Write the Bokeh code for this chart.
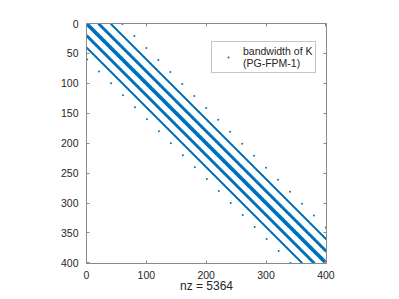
import numpy as np
from bokeh.plotting import figure
from bokeh.models import Range1d, LinearAxis, FixedTicker, Legend, LegendItem
from bokeh.embed import file_html
from bokeh.resources import INLINE

# ---- data: sparsity pattern of K (400 x 400) ----
n = 400
band_offsets = [-40, -21, -20, -19, -2, -1, 0, 1, 2, 19, 20, 21, 40]
upper_point_rows = [1, 21, 41, 61, 81, 101, 121, 141, 161, 181, 201, 221, 241, 261, 281, 301, 321, 341]
upper_point_cols = [60, 80, 100, 120, 140, 160, 180, 200, 220, 240, 260, 280, 300, 320, 340, 360, 380, 400]
lower_point_rows = [60, 80, 100, 120, 140, 160, 180, 200, 220, 240, 260, 280, 300, 320, 340, 360, 380, 400]
lower_point_cols = [1, 21, 41, 61, 81, 101, 121, 141, 161, 181, 201, 221, 241, 261, 281, 301, 321, 341]
x_ticks = [0, 100, 200, 300, 400]
y_ticks = [0, 50, 100, 150, 200, 250, 300, 350, 400]
nz_label = "nz = 5364"
legend_label = "bandwidth of K\n(PG-FPM-1)"

rows, cols = [], []
idx = np.arange(1, n + 1)
for k in band_offsets:
    r = idx[(idx + k >= 1) & (idx + k <= n)]
    rows.append(r)
    cols.append(r + k)
rows.append(np.array(upper_point_rows)); cols.append(np.array(upper_point_cols))
rows.append(np.array(lower_point_rows)); cols.append(np.array(lower_point_cols))
rows = np.concatenate(rows)
cols = np.concatenate(cols)

blue = "#0072BD"
axis_col = "#8a8a8a"
text_col = "#262626"
font = "Liberation Sans"

p = figure(frame_width=240, frame_height=240,
           x_range=Range1d(0, 401), y_range=Range1d(401, 0),
           output_backend="svg", toolbar_location=None,
           min_border_left=86, min_border_top=23, min_border_right=40, min_border_bottom=10)
p.grid.visible = False
p.outline_line_color = None
p.background_fill_color = "white"
p.border_fill_color = "white"

r = p.scatter(cols, rows, marker="dot", size=8, color=blue, line_width=1)

def style(ax, ticks, show_labels):
    ax.ticker = FixedTicker(ticks=ticks)
    ax.major_tick_in = 3
    ax.major_tick_out = 0
    ax.minor_tick_line_color = None
    ax.axis_line_color = axis_col
    ax.major_tick_line_color = axis_col
    ax.major_label_text_font = font
    ax.major_label_text_font_size = "10.5px"
    ax.major_label_text_color = text_col if show_labels else None

style(p.xaxis[0], x_ticks, True)
style(p.yaxis[0], y_ticks, True)
p.xaxis[0].major_label_standoff = 7
p.yaxis[0].major_label_standoff = 8
p.xaxis[0].axis_label = nz_label
p.xaxis[0].axis_label_text_font = font
p.xaxis[0].axis_label_text_font_size = "12px"
p.xaxis[0].axis_label_text_font_style = "normal"
p.xaxis[0].axis_label_text_color = text_col
p.xaxis[0].axis_label_standoff = -3

top = LinearAxis(major_label_standoff=0)
style(top, x_ticks, False)
top.major_label_text_font_size = "0px"
p.add_layout(top, "above")
right = LinearAxis(major_label_standoff=0)
style(right, y_ticks, False)
right.major_label_text_font_size = "0px"
p.add_layout(right, "right")

leg = Legend(items=[LegendItem(label=legend_label, renderers=[r])],
             location=(125, 190))
leg.padding = 3
leg.margin = 0
leg.glyph_width = 26
leg.label_standoff = 2
leg.label_text_font = font
leg.label_text_font_size = "10.5px"
leg.label_text_color = text_col
leg.border_line_color = axis_col
leg.border_line_width = 1
leg.background_fill_alpha = 1
p.add_layout(leg, "center")

open("out.html", "w").write(file_html(p, INLINE))
